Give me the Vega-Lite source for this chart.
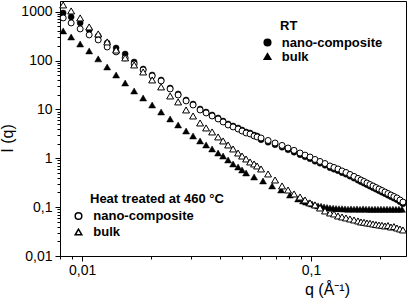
{
"$schema": "https://vega.github.io/schema/vega-lite/v6.json",
"width": 346, "height": 255,
"autosize": {"type": "none"},
"padding": {"left": 60, "top": 1, "right": 2, "bottom": 45},
"background": "white",
"config": {"view": {"stroke": "black", "strokeWidth": 1}, "font": "Liberation Sans"},
"datasets": {
"RTnano": [
{"q":0.00826,"I":940},{"q":0.00895,"I":778},{"q":0.0098,"I":587},{"q":0.01073,"I":422},{"q":0.01175,"I":318},{"q":0.01286,"I":229},{"q":0.01407,"I":181},{"q":0.01541,"I":136},{"q":0.01687,"I":93.4},{"q":0.01847,"I":67.2},{"q":0.02022,"I":50.6},{"q":0.02213,"I":40.0},{"q":0.02423,"I":27.4},{"q":0.02626,"I":20.7},{"q":0.02845,"I":15.6},{"q":0.03052,"I":12.9},{"q":0.03275,"I":10.2},{"q":0.03479,"I":8.85},{"q":0.03696,"I":7.69},{"q":0.03926,"I":6.67},{"q":0.04128,"I":5.79},{"q":0.04342,"I":5.03},{"q":0.04565,"I":4.58},{"q":0.048,"I":4.17},{"q":0.04996,"I":3.79},{"q":0.05203,"I":3.45},{"q":0.05416,"I":3.29},{"q":0.05638,"I":2.99},{"q":0.05812,"I":2.86},
{"q":0.06049,"I":2.39},{"q":0.0649,"I":2.13},{"q":0.06964,"I":1.89},{"q":0.07471,"I":1.68},{"q":0.07935,"I":1.49},{"q":0.0843,"I":1.33},{"q":0.08954,"I":1.18},{"q":0.09415,"I":1.07},{"q":0.09899,"I":0.975},{"q":0.1041,"I":0.869},{"q":0.10946,"I":0.791},{"q":0.11509,"I":0.718},{"q":0.12106,"I":0.639},{"q":0.12601,"I":0.596},{"q":0.13119,"I":0.556},{"q":0.13659,"I":0.506},{"q":0.14218,"I":0.471},{"q":0.14803,"I":0.429},{"q":0.15411,"I":0.391},{"q":0.16042,"I":0.356},{"q":0.16533,"I":0.33},{"q":0.17037,"I":0.308},{"q":0.17558,"I":0.287},{"q":0.18097,"I":0.267},{"q":0.18652,"I":0.249},{"q":0.19223,"I":0.232},{"q":0.19813,"I":0.216},{"q":0.20418,"I":0.201},{"q":0.21045,"I":0.188},{"q":0.21688,"I":0.175},{"q":0.22352,"I":0.163},{"q":0.23035,"I":0.152},{"q":0.23741,"I":0.142},{"q":0.24469,"I":0.129},{"q":0.25217,"I":0.117}
],
"RTbulk": [
{"q":0.00826,"I":403},{"q":0.00895,"I":303},{"q":0.0098,"I":218},{"q":0.01073,"I":157},{"q":0.01175,"I":108},{"q":0.01286,"I":73.8},{"q":0.01407,"I":50.6},{"q":0.01541,"I":34.7},{"q":0.01687,"I":23.8},{"q":0.01847,"I":17.1},{"q":0.02022,"I":12.3},{"q":0.02213,"I":8.85},{"q":0.02423,"I":6.37},{"q":0.02626,"I":4.8},{"q":0.02845,"I":3.61},{"q":0.03052,"I":2.86},{"q":0.03275,"I":2.26},{"q":0.03479,"I":1.87},{"q":0.03696,"I":1.55},{"q":0.03926,"I":1.28},{"q":0.04128,"I":1.11},{"q":0.04342,"I":0.923},{"q":0.04565,"I":0.764},{"q":0.048,"I":0.663},{"q":0.04996,"I":0.576},{"q":0.05203,"I":0.5},
{"q":0.0564,"I":0.414},{"q":0.0617,"I":0.343},{"q":0.0676,"I":0.271},{"q":0.074,"I":0.224},{"q":0.0809,"I":0.177},{"q":0.0878,"I":0.147},{"q":0.09228,"I":0.134},{"q":0.0951,"I":0.127},{"q":0.09801,"I":0.122},{"q":0.101,"I":0.116},{"q":0.1041,"I":0.111},{"q":0.1073,"I":0.106},{"q":0.1106,"I":0.104},{"q":0.114,"I":0.101},{"q":0.1175,"I":0.0985},{"q":0.12106,"I":0.096},{"q":0.1248,"I":0.095},{"q":0.1286,"I":0.094},{"q":0.1325,"I":0.093},{"q":0.13659,"I":0.093},{"q":0.1408,"I":0.092},{"q":0.1451,"I":0.091},{"q":0.1495,"I":0.092},{"q":0.15411,"I":0.091},{"q":0.1588,"I":0.092},{"q":0.1637,"I":0.09},{"q":0.1687,"I":0.092},{"q":0.1738,"I":0.091},{"q":0.1792,"I":0.091},{"q":0.1846,"I":0.09},{"q":0.1903,"I":0.091},{"q":0.1961,"I":0.09},{"q":0.2021,"I":0.091},{"q":0.2083,"I":0.09},{"q":0.2147,"I":0.091},{"q":0.2213,"I":0.09},{"q":0.228,"I":0.091},{"q":0.235,"I":0.09},{"q":0.2422,"I":0.091},{"q":0.2497,"I":0.09}
],
"HTnano": [
{"q":0.00826,"I":743},{"q":0.00895,"I":587},{"q":0.0098,"I":443},{"q":0.01073,"I":334},{"q":0.01175,"I":264},{"q":0.01286,"I":189},{"q":0.01407,"I":150},{"q":0.01541,"I":113},{"q":0.01687,"I":85.1},{"q":0.01847,"I":64.1},{"q":0.02022,"I":48.3},{"q":0.02213,"I":38.2},{"q":0.02423,"I":26.2},{"q":0.02626,"I":19.7},{"q":0.02845,"I":14.9},{"q":0.03052,"I":12.3},{"q":0.03275,"I":9.73},{"q":0.03479,"I":8.45},{"q":0.03696,"I":7.33},{"q":0.03926,"I":6.37},{"q":0.04128,"I":5.53},{"q":0.04342,"I":4.8},{"q":0.04565,"I":4.37},{"q":0.048,"I":3.97},{"q":0.04996,"I":3.61},{"q":0.05203,"I":3.29},{"q":0.05416,"I":3.14},{"q":0.05638,"I":2.86},{"q":0.05812,"I":2.73},
{"q":0.06049,"I":2.6},{"q":0.0649,"I":2.31},{"q":0.06964,"I":2.05},{"q":0.07471,"I":1.83},{"q":0.07935,"I":1.62},{"q":0.0843,"I":1.45},{"q":0.08954,"I":1.28},{"q":0.09415,"I":1.16},{"q":0.09899,"I":1.06},{"q":0.1041,"I":0.945},{"q":0.10946,"I":0.86},{"q":0.11509,"I":0.78},{"q":0.12106,"I":0.695},{"q":0.12601,"I":0.648},{"q":0.13119,"I":0.604},{"q":0.13659,"I":0.55},{"q":0.14218,"I":0.512},{"q":0.14803,"I":0.466},{"q":0.15411,"I":0.425},{"q":0.16042,"I":0.387},{"q":0.16533,"I":0.359},{"q":0.17037,"I":0.335},{"q":0.17558,"I":0.312},{"q":0.18097,"I":0.29},{"q":0.18652,"I":0.271},{"q":0.19223,"I":0.252},{"q":0.19813,"I":0.235},{"q":0.20418,"I":0.219},{"q":0.21045,"I":0.204},{"q":0.21688,"I":0.19},{"q":0.22352,"I":0.177},{"q":0.23035,"I":0.165},{"q":0.23741,"I":0.154},{"q":0.24469,"I":0.14},{"q":0.25217,"I":0.127}
],
"HTbulk": [
{"q":0.00826,"I":1371},{"q":0.00895,"I":1033},{"q":0.0098,"I":743},{"q":0.01073,"I":486},{"q":0.01175,"I":350},{"q":0.01286,"I":240},{"q":0.01407,"I":164},{"q":0.01541,"I":113},{"q":0.01687,"I":81.1},{"q":0.01847,"I":58.3},{"q":0.02022,"I":40.0},{"q":0.02213,"I":28.8},{"q":0.02423,"I":18.8},{"q":0.02626,"I":14.2},{"q":0.02845,"I":9.73},{"q":0.03052,"I":7.33},{"q":0.03275,"I":5.27},{"q":0.03479,"I":4.17},{"q":0.03696,"I":3.45},{"q":0.03926,"I":2.73},{"q":0.04128,"I":2.26},{"q":0.04342,"I":1.87},{"q":0.04565,"I":1.55},{"q":0.048,"I":1.28},{"q":0.04996,"I":1.11},{"q":0.05203,"I":0.967},{"q":0.05416,"I":0.839},{"q":0.05638,"I":0.764},{"q":0.05812,"I":0.695},
{"q":0.06049,"I":0.604},{"q":0.0649,"I":0.477},{"q":0.06964,"I":0.359},{"q":0.07471,"I":0.271},{"q":0.07935,"I":0.224},{"q":0.0843,"I":0.186},{"q":0.08954,"I":0.161},{"q":0.09415,"I":0.14},{"q":0.09899,"I":0.122},{"q":0.1041,"I":0.111},{"q":0.10946,"I":0.096},{"q":0.11509,"I":0.0834},{"q":0.12106,"I":0.0759},{"q":0.12601,"I":0.0724},{"q":0.13119,"I":0.0659},{"q":0.13659,"I":0.0629},{"q":0.14218,"I":0.06},{"q":0.14803,"I":0.0572},{"q":0.15411,"I":0.0546},{"q":0.16042,"I":0.0521},{"q":0.16533,"I":0.0497},{"q":0.17037,"I":0.049},{"q":0.17558,"I":0.0474},{"q":0.18097,"I":0.0468},{"q":0.18652,"I":0.0452},{"q":0.19223,"I":0.044},{"q":0.19813,"I":0.0431},{"q":0.20418,"I":0.0425},{"q":0.21045,"I":0.0411},{"q":0.21688,"I":0.042},{"q":0.22352,"I":0.0392},{"q":0.23035,"I":0.04},{"q":0.23741,"I":0.0374},{"q":0.24469,"I":0.0357},{"q":0.25217,"I":0.0341}
]
},
"layer": [
{
"layer": [
{
"data": {"name": "RTnano"},
"mark": {"type": "point", "filled": true, "fill": "black", "stroke": "black", "strokeWidth": 0.5, "size": 36, "opacity": 1},
"encoding": {
"x": {"field": "q", "type": "quantitative", "scale": {"type": "log", "domain": [0.008, 0.26], "nice": false},
"axis": {"orient": "bottom", "values": [0.01, 0.1], "labelExpr": "replace(format(datum.value, '~g'), '.', ',')", "tickSize": 5, "tickColor": "black", "domainColor": "black", "labelFontSize": 14, "labelColor": "black", "labelPadding": 2, "grid": false, "title": "q (Å⁻¹)", "titleFontSize": 16, "titleFontWeight": "normal", "titleColor": "black", "titleX": 267, "titlePadding": 4}},
"y": {"field": "I", "type": "quantitative", "scale": {"type": "log", "domain": [0.01, 1650], "nice": false},
"axis": {"orient": "left", "values": [0.01, 0.1, 1, 10, 100, 1000], "labelExpr": "replace(format(datum.value, '~g'), '.', ',')", "tickSize": 5, "tickColor": "black", "domainColor": "black", "labelFontSize": 14, "labelColor": "black", "labelPadding": 3, "grid": false, "title": "I (q)", "titleFontSize": 16, "titleFontWeight": "normal", "titleColor": "black", "titleAngle": 270, "titleAlign": "center", "titleBaseline": "middle", "titleX": -53, "titleY": 137}},
"shape": {"datum": "nano-composite", "type": "nominal", "scale": {"domain": ["nano-composite", "bulk"], "range": ["circle", "triangle-up"]},
"legend": {"title": "RT", "orient": "none", "legendX": 220, "legendY": 19, "titleFontSize": 13, "titleFontWeight": "bold", "titleColor": "black", "labelFontSize": 13, "labelFontWeight": "bold", "labelColor": "black", "symbolSize": 44, "symbolOffset": -19, "labelOffset": 7.8, "rowPadding": 0, "titlePadding": 3, "padding": 0,
"encode": {"symbols": {"update": {"fill": {"value": "black"}, "stroke": {"value": "black"}, "strokeWidth": {"value": 0.5}}}}}}
}
},
{
"data": {"name": "RTbulk"},
"mark": {"type": "point", "filled": true, "fill": "black", "stroke": "black", "strokeWidth": 0.5, "size": 48, "opacity": 1},
"encoding": {
"x": {"field": "q", "type": "quantitative"},
"y": {"field": "I", "type": "quantitative"},
"shape": {"datum": "bulk", "type": "nominal"}
}
}
]
},
{
"layer": [
{
"data": {"name": "HTnano"},
"mark": {"type": "point", "filled": true, "fill": "white", "stroke": "black", "strokeWidth": 1, "size": 36, "opacity": 1},
"encoding": {
"x": {"field": "q", "type": "quantitative",
"axis": {"orient": "bottom", "values": [0.008, 0.009, 0.02, 0.03, 0.04, 0.05, 0.06, 0.07, 0.08, 0.09, 0.2], "labels": false, "domain": false, "tickSize": 3, "tickColor": "black", "grid": false, "title": null}},
"y": {"field": "I", "type": "quantitative",
"axis": {"orient": "left", "values": [0.02, 0.03, 0.04, 0.05, 0.06, 0.07, 0.08, 0.09, 0.2, 0.3, 0.4, 0.5, 0.6, 0.7, 0.8, 0.9, 2, 3, 4, 5, 6, 7, 8, 9, 20, 30, 40, 50, 60, 70, 80, 90, 200, 300, 400, 500, 600, 700, 800, 900], "labels": false, "domain": false, "tickSize": 3, "tickColor": "black", "grid": false, "title": null}},
"shape": {"datum": "nano-composite", "type": "nominal", "scale": {"domain": ["nano-composite", "bulk"], "range": ["circle", "triangle-up"]},
"legend": {"title": "Heat treated at 460 °C", "orient": "none", "legendX": 30, "legendY": 191.5, "titleFontSize": 13, "titleFontWeight": "bold", "titleColor": "black", "titleLimit": 400, "labelFontSize": 13, "labelFontWeight": "bold", "labelColor": "black", "symbolSize": 44, "symbolOffset": -18, "labelOffset": 8.3, "rowPadding": 2, "titlePadding": 4, "padding": 0,
"encode": {"symbols": {"update": {"fill": {"value": "white"}, "stroke": {"value": "black"}, "strokeWidth": {"value": 1}}}}}}
}
},
{
"data": {"name": "HTbulk"},
"mark": {"type": "point", "filled": true, "fill": "white", "stroke": "black", "strokeWidth": 1, "size": 48, "opacity": 1},
"encoding": {
"x": {"field": "q", "type": "quantitative"},
"y": {"field": "I", "type": "quantitative"},
"shape": {"datum": "bulk", "type": "nominal"}
}
}
]
}
],
"resolve": {"scale": {"shape": "independent"}, "axis": {"x": "independent", "y": "independent"}}
}
